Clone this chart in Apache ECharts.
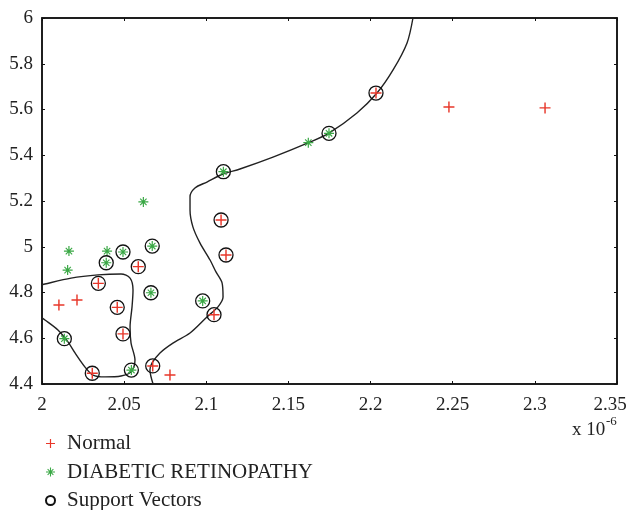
<!DOCTYPE html>
<html>
<head>
<meta charset="utf-8">
<script src="https://cdn.jsdelivr.net/npm/echarts@6/dist/echarts.min.js"></script>
<style>
    html, body { margin: 0; padding: 0; background: #fff; }
    #chart { width: 628px; height: 510px; }
</style>
</head>
<body>
<div id="chart"></div>
<script>
    // 普通样本（非支持向量）
    var normalPts = [[2.0103, 4.745], [2.0213, 4.767], [2.2477, 5.611], [2.3062, 5.607], [2.0779, 4.439]]
    // 普通样本（支持向量）
    var normalSv = [[2.2033, 5.672], [2.1090, 5.117], [2.1120, 4.964], [2.0586, 4.913], [2.0343, 4.840],
        [2.0458, 4.735], [2.0493, 4.619], [2.0306, 4.447], [2.0674, 4.479], [2.1047, 4.703]]
    // 糖尿病视网膜病变样本
    var drPts = [[2.0617, 5.196], [2.0164, 4.981], [2.0396, 4.981], [2.0156, 4.898], [2.1621, 5.455]]
    var drSv = [[2.0493, 4.977], [2.0671, 5.003], [2.0391, 4.930], [2.0663, 4.799], [2.0136, 4.598],
        [2.0544, 4.461], [2.0978, 4.763], [2.1104, 5.328], [2.1747, 5.496]]
    // 分类边界
    var boundaryA = [[2.0676, 4.4], [2.0657, 4.461], [2.0670, 4.492], [2.0718, 4.536], [2.0797, 4.579],
        [2.0901, 4.623], [2.1004, 4.693], [2.1071, 4.737], [2.1102, 4.780], [2.1096, 4.842],
        [2.1059, 4.890], [2.1023, 4.942], [2.0962, 5.016], [2.0919, 5.086], [2.0901, 5.161],
        [2.0901, 5.218], [2.0931, 5.257], [2.1004, 5.283], [2.1102, 5.318], [2.1205, 5.340],
        [2.1406, 5.392], [2.1619, 5.454], [2.1747, 5.497], [2.1917, 5.585], [2.2039, 5.672],
        [2.2137, 5.773], [2.2222, 5.891], [2.2258, 6.0]]
    var boundaryB = [[2.0, 4.833], [2.0018, 4.837], [2.0177, 4.863], [2.0341, 4.877], [2.0481, 4.881],
        [2.0536, 4.863], [2.0554, 4.811], [2.0548, 4.737], [2.0536, 4.649], [2.0542, 4.579],
        [2.0566, 4.505], [2.0542, 4.453], [2.0481, 4.435], [2.0383, 4.431], [2.0310, 4.439],
        [2.0262, 4.474], [2.0201, 4.536], [2.0158, 4.584], [2.0097, 4.636], [2.0018, 4.680],
        [2.0, 4.689]]

    var plusPath = 'path://M4.35,0H5.65V4.35H10V5.65H5.65V10H4.35V5.65H0V4.35H4.35Z'
    var starPath = 'path://M4.4,0H5.6V4.4H10V5.6H5.6V10H4.4V5.6H0V4.4H4.4Z' +
        'M1.4,2.2L2.2,1.4L8.6,7.8L7.8,8.6Z' +
        'M7.8,1.4L8.6,2.2L2.2,8.6L1.4,7.8Z'
    var serif = 'Liberation Serif'
    var red = '#e8372a'
    var green = '#3aa845'

    var chart = echarts.init(document.getElementById('chart'))

    function boundary(data) {
        return {
            type: 'line',
            data: data,
            showSymbol: false,
            smooth: 0.3,
            silent: true,
            z: 1,
            lineStyle: { color: '#222', width: 1.4 }
        }
    }

    // 四周框线 + 内向刻度
    function frameAxis(pos, isX) {
        var ax = {
            type: 'value',
            position: pos,
            axisLine: { show: true, lineStyle: { color: '#111', width: 1.5 } },
            axisTick: { inside: true, length: 3, lineStyle: { color: '#111' } },
            axisLabel: { show: false },
            splitLine: { show: false }
        }
        if (isX) { ax.min = 2; ax.max = 2.35; ax.interval = 0.05 }
        else { ax.min = 4.4; ax.max = 6; ax.interval = 0.2 }
        return ax
    }

    var xMain = frameAxis('bottom', true)
    xMain.axisLabel = {
        fontFamily: serif, fontSize: 19, color: '#222', margin: 12,
        // 最右侧标签往左挪一点，避免超出画布
        formatter: function (v) { return v >= 2.349 ? '{r|' + v + '}' : v },
        rich: { r: { fontFamily: serif, fontSize: 19, color: '#222', padding: [0, 14, 0, 0] } }
    }
    var yMain = frameAxis('left', false)
    yMain.axisLabel = { fontFamily: serif, fontSize: 19, color: '#222', margin: 9 }

    chart.setOption({
        animation: false,
        grid: {
            left: 42, right: 11, top: 18, bottom: 126,
            outerBoundsMode: 'none',
            show: true, borderColor: '#111', borderWidth: 1.5
        },
        legend: {
            orient: 'vertical',
            left: 45,
            top: 433,
            height: 90,
            padding: 0,
            itemWidth: 23,
            itemHeight: 9,
            itemGap: 7.5,
            textStyle: { fontFamily: serif, fontSize: 21, color: '#222' },
            data: [
                { name: 'Normal', icon: plusPath },
                { name: 'DIABETIC RETINOPATHY', icon: starPath },
                { name: 'Support Vectors', icon: 'circle' }
            ]
        },
        xAxis: [xMain, frameAxis('top', true)],
        yAxis: [yMain, frameAxis('right', false)],
        graphic: [{
            type: 'text',
            x: 572, y: 430,
            style: { text: 'x 10', fontFamily: serif, fontSize: 19, fill: '#222', verticalAlign: 'middle' }
        }, {
            type: 'text',
            x: 606, y: 422,
            style: { text: '-6', fontFamily: serif, fontSize: 13, fill: '#222', verticalAlign: 'middle' }
        }],
        series: [
            boundary(boundaryA),
            boundary(boundaryB),
            {
                name: 'Normal',
                type: 'scatter',
                data: normalPts.concat(normalSv),
                symbol: plusPath,
                symbolSize: 11,
                z: 3,
                itemStyle: { color: red, opacity: 1 }
            },
            {
                name: 'DIABETIC RETINOPATHY',
                type: 'scatter',
                data: drPts.concat(drSv),
                symbol: starPath,
                symbolSize: 10,
                z: 3,
                itemStyle: { color: green, opacity: 1 }
            },
            {
                name: 'Support Vectors',
                type: 'scatter',
                data: normalSv.concat(drSv),
                symbol: 'circle',
                symbolSize: 14,
                z: 4,
                itemStyle: { color: 'rgba(0,0,0,0)', borderColor: '#111', borderWidth: 1.3, opacity: 1 }
            }
        ]
    })
</script>
</body>
</html>
